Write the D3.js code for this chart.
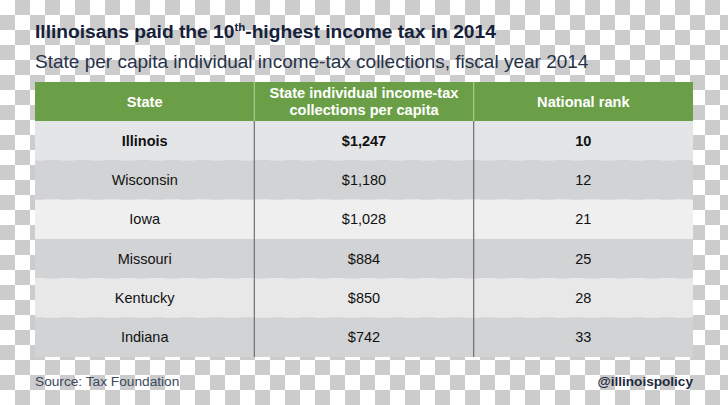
<!DOCTYPE html>
<html>
<head>
<meta charset="utf-8">
<script src="https://cdn.jsdelivr.net/npm/d3@7"></script>
<style>
  html, body { margin: 0; padding: 0; background: #fff; }
  svg { display: block; font-family: "Liberation Sans", Arial, Helvetica, sans-serif; }
</style>
</head>
<body>
<svg id="chart" width="728" height="405"></svg>
<script>
// ---- data ----
const columns = ["State", "State individual income-tax\ncollections per capita", "National rank"];
const states = ["Illinois", "Wisconsin", "Iowa", "Missouri", "Kentucky", "Indiana"];
const collections = ["$1,247", "$1,180", "$1,028", "$884", "$850", "$742"];
const ranks = ["10", "12", "21", "25", "28", "33"];
const highlighted = ["Illinois"];

const titleText = "Illinoisans paid the 10th-highest income tax in 2014";
const subtitleText = "State per capita individual income-tax collections, fiscal year 2014";
const sourceText = "Source: Tax Foundation";
const handleText = "@illinoispolicy";

// ---- drawing ----
const W = 728, H = 405;
const svg = d3.select("#chart");

// checkerboard background
const defs = svg.append("defs");
const pat = defs.append("pattern").attr("id", "checker")
  .attr("width", 30).attr("height", 30).attr("patternUnits", "userSpaceOnUse");
pat.append("rect").attr("width", 30).attr("height", 30).attr("fill", "#ffffff");
pat.append("rect").attr("x", 15).attr("y", 0).attr("width", 15).attr("height", 15).attr("fill", "#cccccc");
pat.append("rect").attr("x", 0).attr("y", 15).attr("width", 15).attr("height", 15).attr("fill", "#cccccc");
svg.append("rect").attr("width", W).attr("height", H).attr("fill", "url(#checker)");

const left = 35, right = 693;
const headerTop = 82, headerBottom = 121, tableBottom = 357;

// title
const title = svg.append("text").attr("x", left).attr("y", 38)
  .attr("font-size", 19.2).attr("font-weight", "bold").attr("fill", "#16213a");
title.append("tspan").text("Illinoisans paid the 10");
title.append("tspan").attr("font-size", 11.5).attr("dy", -7).text("th");
title.append("tspan").attr("dy", 7).text("-highest income tax in 2014");

svg.append("text").attr("x", left).attr("y", 68)
  .attr("font-size", 19).attr("fill", "#27324a").text(subtitleText);

// scales
const x = d3.scaleBand().domain(d3.range(columns.length)).range([left, right]).padding(0);
const y = d3.scaleBand().domain(states).range([headerBottom, tableBottom]).padding(0);

// header
svg.append("rect").attr("x", left).attr("y", headerTop)
  .attr("width", right - left).attr("height", headerBottom - headerTop).attr("fill", "#6b9f47");

columns.forEach((c, i) => {
  const lines = c.split("\n");
  const cy = (headerTop + headerBottom) / 2;
  const lh = 16.5;
  lines.forEach((l, k) => {
    svg.append("text")
      .attr("x", x(i) + x.bandwidth() / 2)
      .attr("y", cy + 5 + (k - (lines.length - 1) / 2) * lh)
      .attr("text-anchor", "middle").attr("font-size", 14.6).attr("font-weight", "bold")
      .attr("fill", "#ffffff").text(l);
  });
});

// rows
const rowFill = ["#e4e5e7", "#d2d3d5", "#efefef", "#d2d3d5", "#e8e8e9", "#d2d3d5"];
const rows = svg.append("g").selectAll("g").data(states).join("g");
rows.append("rect")
  .attr("x", left).attr("y", d => y(d))
  .attr("width", right - left).attr("height", y.bandwidth())
  .attr("fill", (d, i) => rowFill[i]);

const cellValues = (d, i) => [d, collections[i], ranks[i]];
rows.each(function (d, i) {
  const g = d3.select(this);
  cellValues(d, i).forEach((v, j) => {
    g.append("text")
      .attr("x", x(j) + x.bandwidth() / 2)
      .attr("y", y(d) + y.bandwidth() / 2 + 5)
      .attr("text-anchor", "middle")
      .attr("font-size", 14.5)
      .attr("font-weight", highlighted.includes(d) ? "bold" : "normal")
      .attr("fill", "#111111")
      .text(v);
  });
});

// column dividers
[1, 2].forEach(i => {
  svg.append("line").attr("x1", x(i)).attr("x2", x(i))
    .attr("y1", headerTop).attr("y2", headerBottom)
    .attr("stroke", "#a9cc8e").attr("stroke-width", 1.2);
  svg.append("line").attr("x1", x(i)).attr("x2", x(i))
    .attr("y1", headerBottom).attr("y2", tableBottom)
    .attr("stroke", "#6d6f73").attr("stroke-width", 1.2);
});

// footer
svg.append("text").attr("x", left).attr("y", 386)
  .attr("font-size", 13.7).attr("fill", "#3a4a5c").text(sourceText);
svg.append("text").attr("x", right).attr("y", 386).attr("text-anchor", "end")
  .attr("font-size", 13.6).attr("font-weight", "bold").attr("fill", "#1e2a3e").text(handleText);
</script>
</body>
</html>
